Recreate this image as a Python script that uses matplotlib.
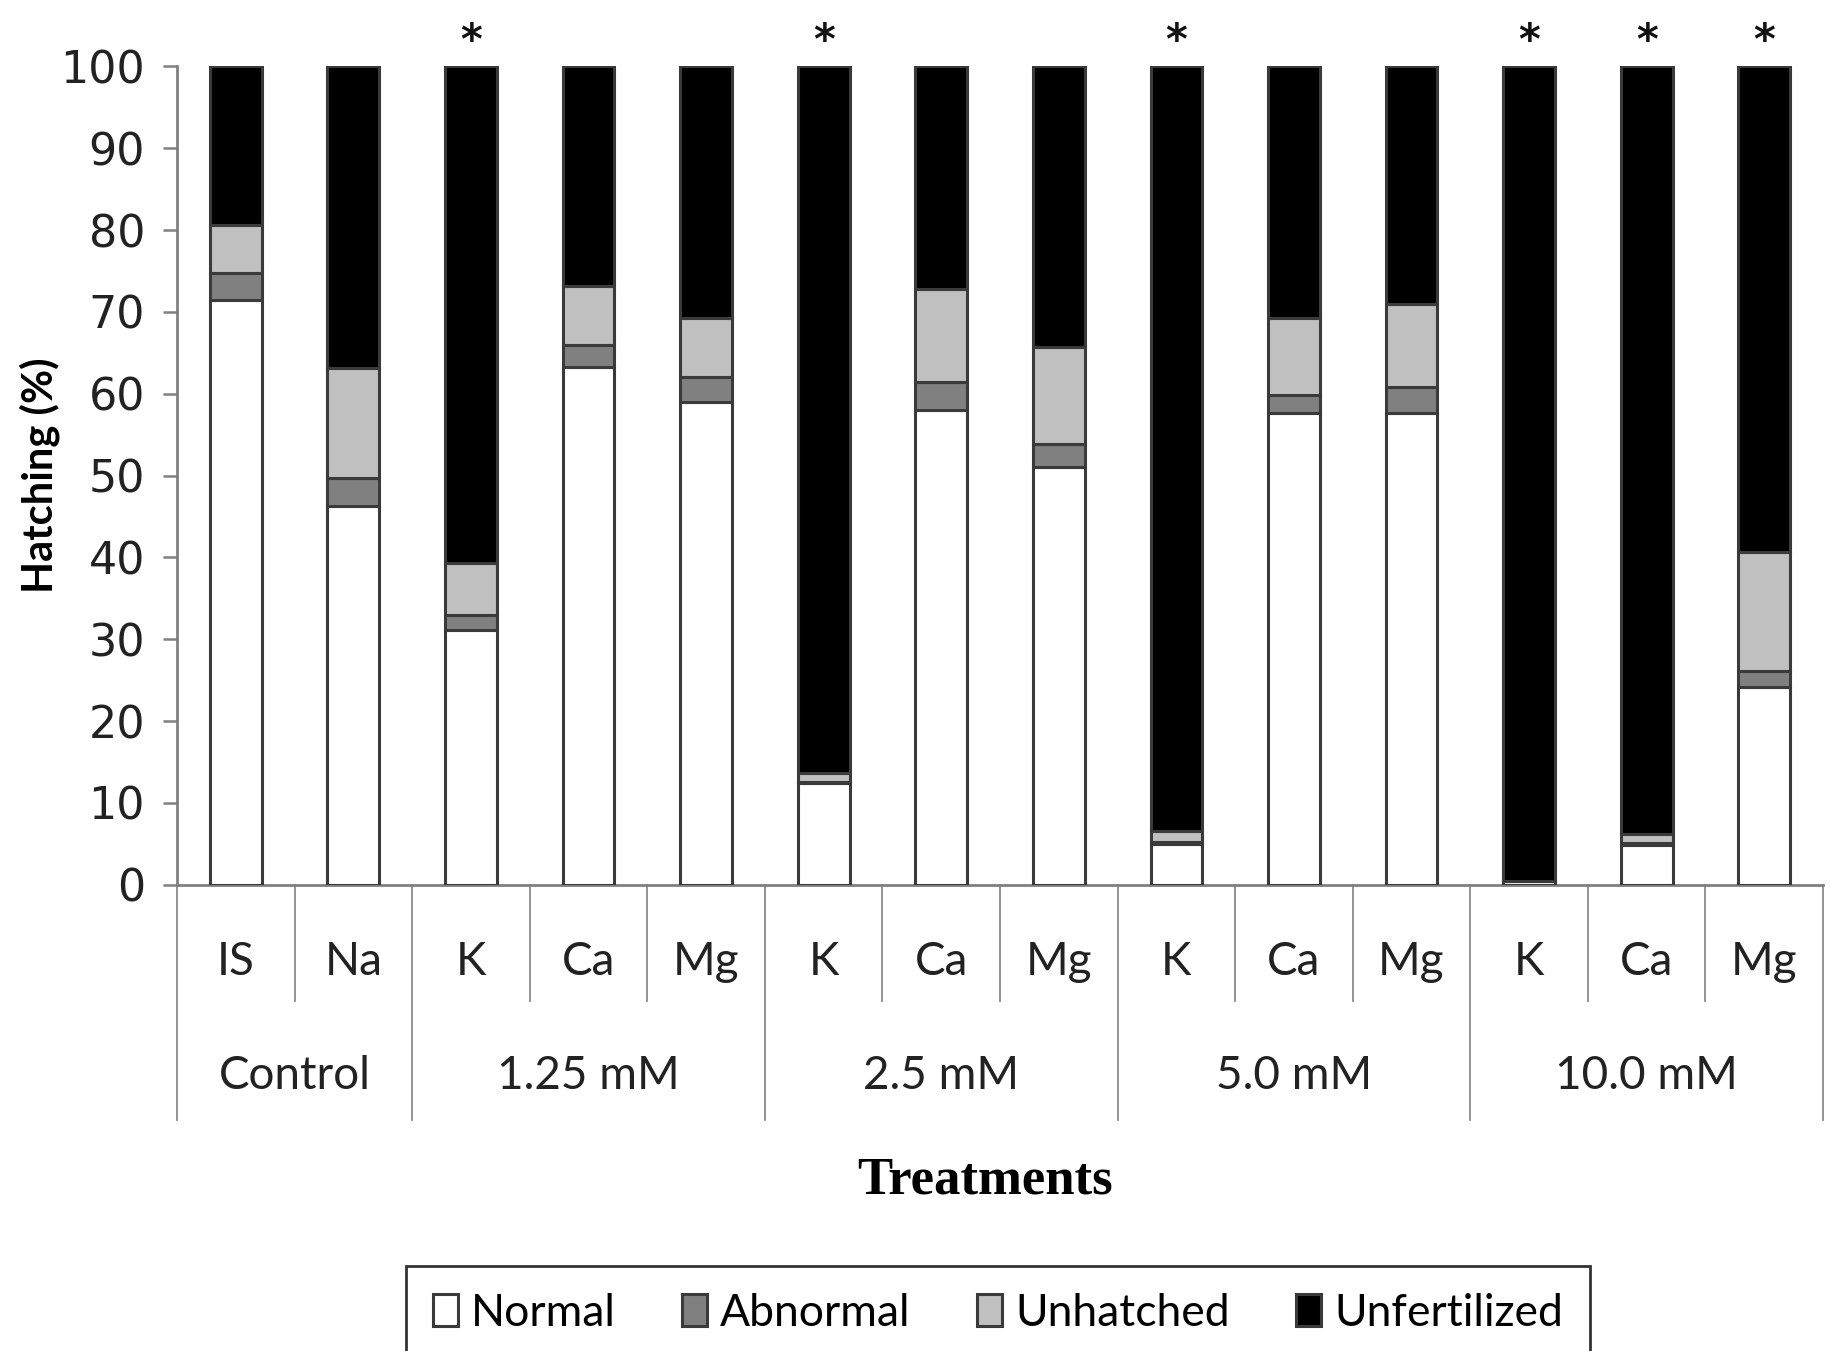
import matplotlib
matplotlib.use("Agg")
import matplotlib.pyplot as plt
import matplotlib.transforms as mtransforms
import numpy as np

# hatching outcome per treatment, percent of eggs
ions = ["IS", "Na", "K", "Ca", "Mg", "K", "Ca", "Mg", "K", "Ca", "Mg", "K", "Ca", "Mg"]
groups = ["Control", "1.25 mM", "2.5 mM", "5.0 mM", "10.0 mM"]
group_sizes = [2, 3, 3, 3, 3]
normal = [71.5, 46.3, 31.1, 63.3, 59.0, 12.4, 58.0, 51.0, 5.0, 57.6, 57.6, 0.4, 4.9, 24.1]
abnormal = [3.3, 3.4, 1.9, 2.6, 3.1, 0.2, 3.4, 2.8, 0.2, 2.3, 3.2, 0.0, 0.2, 2.0]
unhatched = [5.8, 13.5, 6.3, 7.3, 7.2, 1.0, 11.4, 11.9, 1.4, 9.4, 10.2, 0.0, 1.1, 14.5]
unfertilized = [100 - a - b - c for a, b, c in zip(normal, abnormal, unhatched)]
significant = [False, False, True, False, False, True, False, False, True, False, False, True, True, True]

series = [("Normal", normal, "white"),
          ("Abnormal", abnormal, "#808080"),
          ("Unhatched", unhatched, "#c0c0c0"),
          ("Unfertilized", unfertilized, "black")]

label_font = "Lato"

fig = plt.figure(figsize=(18.3, 13.51), dpi=100)
ax = fig.add_axes([0.0967, 0.3452, 0.8995, 0.6056])

x = np.arange(len(ions))
bottom = np.zeros(len(ions))
for name, vals, color in series:
    ax.bar(x, vals, width=0.44, bottom=bottom, color=color, edgecolor="#3a3a3a",
           linewidth=2.2, label=name, zorder=3)
    bottom += np.array(vals)

for xi, star in zip(x, significant):
    if star:
        ax.text(xi, 103.0, "*", ha="center", va="center", fontsize=30,
                fontweight="bold", color="#111111")

ax.set_xlim(-0.5, len(ions) - 0.5)
ax.set_ylim(0, 100)
ax.set_yticks(np.arange(0, 101, 10))
ax.tick_params(axis="y", labelsize=32, length=10, width=1.8, color="#808080",
               pad=13, labelcolor="#222222")
ax.set_xticks([])
for side in ["top", "right"]:
    ax.spines[side].set_visible(False)
for side in ["left", "bottom"]:
    ax.spines[side].set_color("#808080")
    ax.spines[side].set_linewidth(2)

ax.set_ylabel("Hatching (%)", fontsize=30, fontweight="bold", family=label_font)
ax.yaxis.set_label_coords(-0.071, 0.5)

# two-level category axis below the plot
trans = mtransforms.blended_transform_factory(ax.transData, ax.transAxes)
edges = np.cumsum([0] + group_sizes) - 0.5
for b in np.arange(len(ions) + 1) - 0.5:
    depth = -0.2877 if b in edges else -0.1425
    ax.plot([b, b], [0, depth], transform=trans, color="#8a8a8a", lw=1.3,
            clip_on=False)
for xi, name in zip(x, ions):
    ax.text(xi, -0.095, name, transform=trans, ha="center", va="center",
            fontsize=33, family=label_font, color="#222222")
for g, name in enumerate(groups):
    ax.text((edges[g] + edges[g + 1]) / 2, -0.2335, name, transform=trans,
            ha="center", va="center", fontsize=33, family=label_font, color="#222222")
ax.text(0.491, -0.362, "Treatments", transform=ax.transAxes, ha="center",
        va="center", fontsize=38, fontweight="bold", family="Liberation Serif")

leg = fig.legend(loc="upper center", bbox_to_anchor=(0.5454, 0.063), ncol=4,
                 prop={"family": label_font, "size": 32}, frameon=True, fancybox=False,
                 handlelength=0.55, handleheight=0.75, handletextpad=0.3,
                 columnspacing=1.5, borderpad=0.6, borderaxespad=0,
                 edgecolor="black")
leg.get_frame().set_linewidth(2)

fig.savefig("out.png", dpi=100, facecolor="white")
